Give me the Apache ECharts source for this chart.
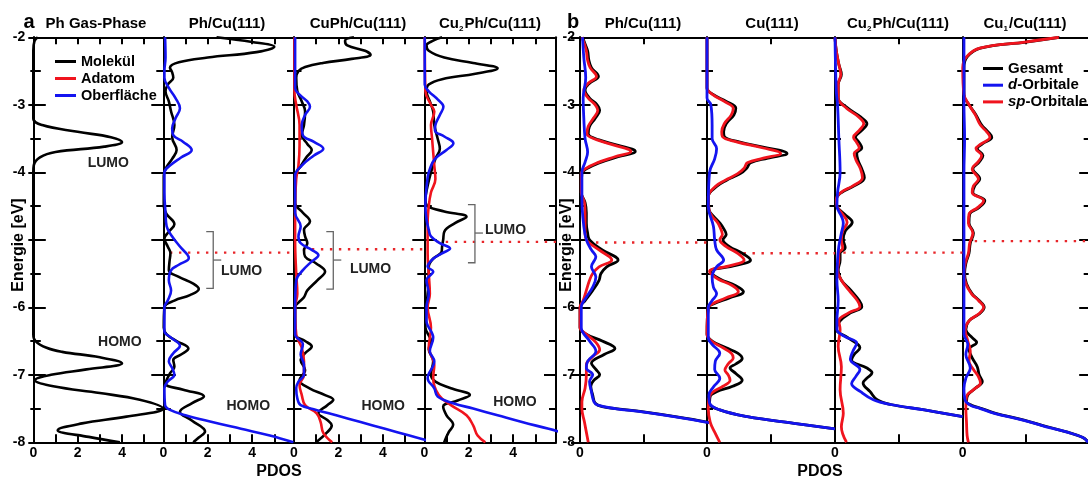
<!DOCTYPE html>
<html>
<head>
<meta charset="utf-8">
<script src="https://cdn.jsdelivr.net/npm/echarts@6/dist/echarts.min.js"></script>
<style>
  html, body { margin: 0; padding: 0; background: #fff; }
  #chart { width: 1088px; height: 480px; }
</style>
</head>
<body>
<div id="chart"></div>
<script>
// every curve: [energy (eV), PDOS]
// --- a: Ph Gas-Phase
const gasMolekuel = [[-2.0,0.2],[-2.06,0.05],[-2.2,0],[-3.2,0],[-3.3,0.4],[-3.4,2.0],[-3.48,3.5],[-3.55,4.0],[-3.62,3.2],[-3.7,1.0],[-3.78,0.3],[-3.9,0.02],[-4.0,0],[-6.4,0],[-6.5,0.1],[-6.6,0.6],[-6.66,1.3],[-6.74,3.0],[-6.83,4.0],[-6.92,2.4],[-7.0,0.8],[-7.08,0.08],[-7.17,0.9],[-7.27,3.0],[-7.37,4.8],[-7.5,5.85],[-7.62,4.2],[-7.72,2.2],[-7.82,1.1],[-7.92,2.5],[-8.0,3.9]];
// --- a: Ph/Cu(111)
const phMolekuel = [[-2.0,2.4],[-2.07,4.0],[-2.14,5.0],[-2.22,4.2],[-2.3,2.0],[-2.37,0.7],[-2.45,0.3],[-2.52,0.4],[-2.6,0.45],[-2.7,0.2],[-2.8,0.1],[-2.95,0.25],[-3.1,0.35],[-3.3,0.5],[-3.48,0.4],[-3.67,0.6],[-3.8,0.4],[-3.92,0.15],[-4.05,0.02],[-4.5,0.02],[-4.62,0.15],[-4.77,0.5],[-4.88,0.25],[-4.98,0.05],[-5.1,0.2],[-5.2,0.32],[-5.32,0.28],[-5.45,0.25],[-5.55,0.7],[-5.65,1.35],[-5.73,1.6],[-5.82,1.2],[-5.9,0.5],[-6.0,0.05],[-6.3,0.02],[-6.4,0.15],[-6.5,0.6],[-6.61,1.13],[-6.7,0.8],[-6.78,0.45],[-6.88,0.5],[-6.98,0.3],[-7.13,0.1],[-7.22,0.9],[-7.32,1.83],[-7.42,1.3],[-7.55,0.75],[-7.68,1.3],[-7.84,1.88],[-7.93,1.6],[-8.0,1.35]];
const phOberflaeche = [[-2.0,0.08],[-2.3,0.1],[-2.5,0.05],[-2.6,0.05],[-2.75,0.25],[-2.9,0.55],[-3.05,0.75],[-3.2,0.55],[-3.35,0.4],[-3.45,0.45],[-3.55,0.9],[-3.67,1.28],[-3.78,0.8],[-3.9,0.3],[-4.0,0.05],[-4.3,0.05],[-4.6,0.1],[-4.8,0.15],[-4.95,0.4],[-5.1,0.75],[-5.27,1.15],[-5.37,0.7],[-5.45,0.35],[-5.6,0.25],[-5.75,0.35],[-5.9,0.2],[-6.0,0.05],[-6.35,0.05],[-6.45,0.35],[-6.57,0.75],[-6.68,0.45],[-6.8,0.25],[-6.9,0.4],[-7.0,0.5],[-7.1,0.2],[-7.2,0.05],[-7.45,0.08],[-7.52,0.3],[-7.6,1.0],[-7.7,2.2],[-7.8,3.5],[-7.9,4.8],[-8.0,5.86]];
// --- a: CuPh/Cu(111)
const cuphMolekuel = [[-2.0,2.7],[-2.05,2.3],[-2.12,2.4],[-2.2,3.2],[-2.26,3.45],[-2.32,2.6],[-2.38,1.3],[-2.44,0.5],[-2.5,0.2],[-2.6,0.1],[-2.8,0.15],[-2.95,0.35],[-3.1,0.5],[-3.3,0.45],[-3.45,0.35],[-3.58,0.6],[-3.67,0.8],[-3.78,0.55],[-3.91,0.3],[-4.05,0.05],[-4.45,0.05],[-4.6,0.4],[-4.73,0.72],[-4.85,0.45],[-4.95,0.5],[-5.05,0.6],[-5.15,0.45],[-5.25,0.5],[-5.35,1.0],[-5.47,1.4],[-5.6,1.05],[-5.75,0.6],[-5.85,0.45],[-5.93,0.2],[-6.0,0.05],[-6.4,0.05],[-6.5,0.5],[-6.58,0.8],[-6.68,0.5],[-6.78,0.3],[-6.93,0.5],[-7.08,0.25],[-7.2,0.7],[-7.3,1.4],[-7.37,1.77],[-7.45,1.5],[-7.57,1.1],[-7.67,1.5],[-7.75,1.7],[-7.85,1.5],[-8.0,1.0]];
const cuphAdatom = [[-2.0,0.02],[-2.8,0.02],[-3.0,0.1],[-3.3,0.25],[-3.6,0.25],[-3.9,0.2],[-4.1,0.1],[-4.5,0.05],[-5.0,0.05],[-5.5,0.1],[-5.8,0.15],[-6.0,0.05],[-6.4,0.1],[-6.6,0.35],[-6.8,0.45],[-7.0,0.45],[-7.15,0.25],[-7.3,0.35],[-7.45,0.5],[-7.57,1.02],[-7.7,1.2],[-7.86,1.32],[-8.0,1.72]];
const cuphOberflaeche = [[-2.0,0.05],[-2.75,0.05],[-2.85,0.25],[-2.95,0.6],[-3.03,0.72],[-3.15,0.5],[-3.3,0.35],[-3.45,0.4],[-3.55,0.9],[-3.65,1.32],[-3.75,0.9],[-3.9,0.35],[-4.05,0.05],[-4.6,0.05],[-4.8,0.3],[-4.95,0.2],[-5.05,0.3],[-5.15,0.8],[-5.23,1.1],[-5.32,0.8],[-5.45,0.4],[-5.6,0.1],[-6.0,0.05],[-6.4,0.05],[-6.55,0.4],[-6.7,0.3],[-6.85,0.45],[-7.0,0.45],[-7.1,0.2],[-7.2,0.1],[-7.35,0.15],[-7.45,0.3],[-7.52,1.0],[-7.6,1.9],[-7.7,3.0],[-7.8,4.1],[-7.9,5.2],[-8.0,6.3]];
// --- a: Cu2Ph/Cu(111)
const cu2phMolekuel = [[-2.0,0.8],[-2.05,0.4],[-2.12,0.1],[-2.2,0.2],[-2.3,0.9],[-2.38,2.2],[-2.46,3.3],[-2.54,2.3],[-2.62,0.8],[-2.7,0.2],[-2.8,0.1],[-2.95,0.25],[-3.1,0.4],[-3.3,0.45],[-3.5,0.6],[-3.65,0.7],[-3.8,0.5],[-4.0,0.3],[-4.2,0.15],[-4.4,0.05],[-4.5,0.15],[-4.58,0.9],[-4.66,1.9],[-4.75,1.4],[-4.88,0.9],[-5.0,0.85],[-5.1,0.8],[-5.18,0.78],[-5.28,0.4],[-5.4,0.2],[-5.6,0.2],[-5.8,0.15],[-6.0,0.1],[-6.3,0.05],[-6.5,0.3],[-6.62,0.2],[-6.8,0.4],[-7.0,0.3],[-7.1,0.5],[-7.2,1.2],[-7.3,2.05],[-7.38,1.5],[-7.47,0.85],[-7.6,1.0],[-7.74,1.3],[-7.85,1.1],[-8.0,0.9]];
const cu2phAdatom = [[-2.0,0.02],[-2.8,0.05],[-3.0,0.3],[-3.1,0.45],[-3.3,0.3],[-3.5,0.35],[-3.7,0.4],[-3.9,0.45],[-4.1,0.5],[-4.3,0.3],[-4.5,0.2],[-4.75,0.15],[-5.2,0.15],[-5.5,0.2],[-5.8,0.25],[-6.0,0.15],[-6.3,0.3],[-6.6,0.2],[-6.85,0.45],[-7.05,0.4],[-7.3,0.65],[-7.45,1.2],[-7.6,1.9],[-7.75,2.2],[-7.9,2.4],[-8.0,2.75]];
const cu2phOberflaeche = [[-2.0,0.02],[-2.7,0.02],[-2.8,0.2],[-2.92,0.6],[-3.03,0.86],[-3.15,0.7],[-3.3,0.5],[-3.38,0.48],[-3.47,0.9],[-3.57,1.31],[-3.67,1.0],[-3.8,0.48],[-3.95,0.25],[-4.08,0.15],[-4.5,0.05],[-4.7,0.1],[-4.85,0.2],[-4.95,0.3],[-5.05,0.7],[-5.13,1.16],[-5.2,0.8],[-5.28,0.4],[-5.4,0.15],[-5.47,0.4],[-5.6,0.1],[-5.8,0.2],[-6.0,0.1],[-6.2,0.1],[-6.45,0.4],[-6.65,0.25],[-6.8,0.45],[-7.05,0.15],[-7.2,0.45],[-7.32,0.6],[-7.42,1.3],[-7.5,2.2],[-7.6,3.3],[-7.7,4.4],[-7.8,5.6],[-7.88,6.5]];
// --- b: Ph/Cu(111)
const bPhGesamt = [[-2.0,0.04],[-2.1,0.08],[-2.2,0.12],[-2.34,0.14],[-2.45,0.18],[-2.58,0.29],[-2.68,0.15],[-2.78,0.08],[-2.9,0.15],[-3.0,0.27],[-3.08,0.31],[-3.2,0.24],[-3.32,0.15],[-3.43,0.13],[-3.52,0.3],[-3.6,0.6],[-3.69,0.87],[-3.77,0.6],[-3.86,0.3],[-3.95,0.1],[-4.02,0.03],[-4.3,0.02],[-4.45,0.08],[-4.6,0.1],[-4.75,0.1],[-4.9,0.12],[-5.0,0.15],[-5.15,0.35],[-5.3,0.6],[-5.4,0.42],[-5.5,0.33],[-5.6,0.3],[-5.75,0.2],[-5.9,0.08],[-6.0,0.0],[-6.3,0.0],[-6.4,0.1],[-6.5,0.35],[-6.61,0.55],[-6.7,0.38],[-6.83,0.18],[-6.92,0.25],[-7.0,0.31],[-7.08,0.22],[-7.17,0.17],[-7.3,0.2],[-7.42,0.24],[-7.47,0.35],[-7.55,1.0],[-7.62,1.5],[-7.7,2.0],[-7.76,2.3]];
const bPhD = [[-2.0,0.04],[-2.3,0.06],[-2.6,0.09],[-2.9,0.05],[-3.2,0.06],[-3.5,0.08],[-3.7,0.12],[-3.85,0.08],[-4.0,0.03],[-4.4,0.03],[-4.8,0.06],[-5.0,0.1],[-5.15,0.18],[-5.25,0.25],[-5.4,0.18],[-5.55,0.25],[-5.7,0.2],[-5.85,0.1],[-6.0,0.02],[-6.3,0.02],[-6.5,0.15],[-6.65,0.25],[-6.8,0.12],[-6.9,0.1],[-7.0,0.2],[-7.1,0.15],[-7.25,0.18],[-7.4,0.22],[-7.45,0.28],[-7.5,0.55],[-7.55,0.98],[-7.62,1.48],[-7.7,1.98],[-7.76,2.3]];
const bPhSp = [[-2.0,0.03],[-2.1,0.07],[-2.2,0.1],[-2.34,0.12],[-2.45,0.16],[-2.58,0.26],[-2.68,0.13],[-2.78,0.06],[-2.9,0.13],[-3.0,0.24],[-3.08,0.28],[-3.2,0.21],[-3.32,0.13],[-3.43,0.11],[-3.52,0.27],[-3.6,0.55],[-3.69,0.8],[-3.77,0.55],[-3.86,0.27],[-3.95,0.08],[-4.02,0.02],[-4.3,0.02],[-4.45,0.07],[-4.6,0.08],[-4.75,0.08],[-4.9,0.08],[-5.0,0.1],[-5.15,0.3],[-5.3,0.5],[-5.4,0.3],[-5.5,0.2],[-5.6,0.15],[-5.75,0.1],[-5.9,0.05],[-6.0,0.0],[-6.3,0.0],[-6.4,0.1],[-6.52,0.25],[-6.63,0.31],[-6.73,0.2],[-6.85,0.1],[-7.0,0.1],[-7.2,0.08],[-7.4,0.03],[-7.5,0.03],[-7.7,0.07],[-8.0,0.13]];
// --- b: Cu(111)
const bCuGesamt = [[-2.0,0],[-2.75,0],[-2.85,0.1],[-2.95,0.3],[-3.05,0.45],[-3.15,0.42],[-3.28,0.3],[-3.4,0.26],[-3.47,0.27],[-3.55,0.5],[-3.64,0.95],[-3.72,1.25],[-3.79,0.95],[-3.86,0.68],[-3.94,0.62],[-4.02,0.52],[-4.12,0.3],[-4.21,0.15],[-4.36,0.02],[-4.55,0.03],[-4.65,0.1],[-4.75,0.2],[-4.85,0.27],[-4.92,0.3],[-5.0,0.25],[-5.1,0.35],[-5.2,0.55],[-5.3,0.68],[-5.38,0.45],[-5.47,0.05],[-5.58,0.2],[-5.68,0.45],[-5.77,0.57],[-5.86,0.35],[-5.95,0.1],[-6.0,0.02],[-6.4,0.0],[-6.5,0.08],[-6.6,0.3],[-6.68,0.48],[-6.76,0.55],[-6.84,0.45],[-6.9,0.36],[-6.98,0.45],[-7.08,0.55],[-7.17,0.4],[-7.25,0.15],[-7.32,0.05],[-7.42,0.04],[-7.52,0.2],[-7.62,0.63],[-7.72,1.36],[-7.8,2.0]];
const bCuD = [[-2.0,0],[-2.9,0],[-3.0,0.06],[-3.3,0.08],[-3.5,0.08],[-3.65,0.15],[-3.8,0.12],[-4.0,0.04],[-4.5,0.02],[-4.8,0.1],[-5.0,0.12],[-5.15,0.15],[-5.3,0.26],[-5.4,0.15],[-5.55,0.08],[-5.7,0.1],[-5.8,0.15],[-5.9,0.08],[-6.0,0.02],[-6.45,0.02],[-6.55,0.08],[-6.68,0.2],[-6.8,0.13],[-6.92,0.12],[-7.05,0.2],[-7.18,0.1],[-7.3,0.03],[-7.42,0.04],[-7.52,0.2],[-7.62,0.63],[-7.72,1.36],[-7.8,2.0]];
const bCuSp = [[-2.0,0],[-2.75,0],[-2.85,0.09],[-2.95,0.27],[-3.05,0.41],[-3.15,0.38],[-3.28,0.27],[-3.4,0.23],[-3.47,0.24],[-3.55,0.46],[-3.64,0.88],[-3.72,1.15],[-3.79,0.88],[-3.86,0.63],[-3.94,0.58],[-4.02,0.48],[-4.12,0.28],[-4.21,0.13],[-4.36,0.02],[-4.55,0.03],[-4.65,0.08],[-4.75,0.17],[-4.85,0.22],[-4.92,0.24],[-5.0,0.2],[-5.1,0.3],[-5.2,0.48],[-5.3,0.58],[-5.38,0.38],[-5.47,0.04],[-5.58,0.17],[-5.68,0.4],[-5.77,0.49],[-5.86,0.3],[-5.95,0.08],[-6.0,0.02],[-6.4,0.0],[-6.5,0.07],[-6.6,0.25],[-6.68,0.38],[-6.75,0.41],[-6.84,0.33],[-6.93,0.28],[-7.0,0.33],[-7.08,0.36],[-7.17,0.25],[-7.25,0.1],[-7.32,0.04],[-7.5,0.02],[-7.7,0.05],[-7.85,0.12],[-8.0,0.2]];
// --- b: Cu2Ph/Cu(111)
const bCu2Gesamt = [[-2.0,0],[-2.2,0.02],[-2.4,0.06],[-2.55,0.1],[-2.7,0.05],[-2.9,0.05],[-3.05,0.2],[-3.18,0.4],[-3.28,0.5],[-3.38,0.42],[-3.48,0.32],[-3.56,0.38],[-3.64,0.42],[-3.72,0.34],[-3.82,0.36],[-3.95,0.42],[-4.08,0.46],[-4.2,0.3],[-4.3,0.1],[-4.4,0.02],[-4.5,0.03],[-4.62,0.15],[-4.74,0.27],[-4.87,0.16],[-5.0,0.13],[-5.12,0.16],[-5.2,0.08],[-5.3,0.08],[-5.45,0.05],[-5.6,0.1],[-5.75,0.25],[-5.9,0.38],[-5.99,0.42],[-6.08,0.25],[-6.2,0.08],[-6.33,0.02],[-6.45,0.2],[-6.6,0.39],[-6.7,0.3],[-6.78,0.26],[-6.9,0.5],[-6.97,0.58],[-7.05,0.5],[-7.12,0.44],[-7.25,0.55],[-7.37,0.66],[-7.44,0.87],[-7.52,1.4],[-7.62,2.0]];
const bCu2D = [[-2.0,0],[-2.8,0.02],[-3.0,0.04],[-3.5,0.06],[-4.0,0.08],[-4.3,0.04],[-4.5,0.03],[-4.65,0.1],[-4.75,0.13],[-4.9,0.1],[-5.1,0.06],[-5.3,0.04],[-5.6,0.03],[-5.9,0.05],[-6.2,0.03],[-6.33,0.03],[-6.43,0.15],[-6.53,0.34],[-6.65,0.28],[-6.77,0.24],[-6.92,0.39],[-7.02,0.33],[-7.13,0.26],[-7.25,0.4],[-7.37,0.6],[-7.44,0.87],[-7.52,1.4],[-7.62,2.0]];
const bCu2Sp = [[-2.0,0],[-2.2,0.02],[-2.4,0.06],[-2.55,0.09],[-2.7,0.05],[-2.9,0.05],[-3.05,0.18],[-3.18,0.37],[-3.28,0.45],[-3.38,0.38],[-3.48,0.29],[-3.56,0.34],[-3.64,0.38],[-3.72,0.3],[-3.82,0.33],[-3.95,0.4],[-4.08,0.43],[-4.2,0.28],[-4.3,0.09],[-4.4,0.02],[-4.5,0.03],[-4.62,0.12],[-4.74,0.19],[-4.87,0.12],[-5.0,0.1],[-5.12,0.12],[-5.2,0.06],[-5.3,0.06],[-5.45,0.04],[-5.6,0.1],[-5.75,0.22],[-5.9,0.35],[-5.99,0.39],[-6.08,0.22],[-6.2,0.06],[-6.33,0.08],[-6.58,0.05],[-6.88,0.1],[-7.22,0.08],[-7.57,0.13],[-7.77,0.1],[-8.0,0.18]];
// --- b: Cu1/Cu(111)
const bCu1Gesamt = [[-2.0,1.53],[-2.07,1.0],[-2.16,0.28],[-2.29,0.07],[-2.45,0.02],[-2.85,0.02],[-3.0,0.1],[-3.15,0.21],[-3.3,0.3],[-3.4,0.4],[-3.48,0.46],[-3.58,0.31],[-3.65,0.23],[-3.75,0.32],[-3.85,0.26],[-3.95,0.16],[-4.1,0.27],[-4.2,0.19],[-4.3,0.16],[-4.42,0.35],[-4.52,0.26],[-4.62,0.11],[-4.75,0.1],[-4.9,0.17],[-5.05,0.12],[-5.2,0.1],[-5.35,0.05],[-5.5,0.03],[-5.65,0.06],[-5.8,0.15],[-5.9,0.26],[-6.0,0.34],[-6.1,0.26],[-6.2,0.1],[-6.33,0.05],[-6.45,0.15],[-6.52,0.22],[-6.62,0.1],[-6.75,0.15],[-6.88,0.23],[-7.0,0.26],[-7.1,0.31],[-7.2,0.2],[-7.3,0.08],[-7.4,0.06],[-7.45,0.14],[-7.5,0.3],[-7.57,0.52],[-7.67,0.97],[-7.77,1.34],[-7.85,1.66],[-7.93,1.9],[-8.0,1.99]];
const bCu1D = [[-2.0,0.02],[-3.0,0.02],[-3.5,0.03],[-4.0,0.02],[-5.0,0.02],[-6.0,0.02],[-6.4,0.02],[-6.55,0.08],[-6.7,0.05],[-6.9,0.12],[-7.05,0.05],[-7.2,0.02],[-7.38,0.04],[-7.45,0.12],[-7.5,0.28],[-7.57,0.5],[-7.67,0.95],[-7.77,1.32],[-7.85,1.65],[-7.93,1.9],[-8.0,1.98]];
const bCu1Sp = [[-2.0,1.52],[-2.07,0.98],[-2.16,0.27],[-2.29,0.06],[-2.45,0.0],[-2.85,0.02],[-3.0,0.1],[-3.15,0.2],[-3.3,0.28],[-3.4,0.38],[-3.48,0.43],[-3.58,0.29],[-3.65,0.21],[-3.75,0.3],[-3.85,0.24],[-3.95,0.15],[-4.1,0.25],[-4.2,0.17],[-4.3,0.15],[-4.42,0.33],[-4.52,0.24],[-4.62,0.1],[-4.75,0.09],[-4.9,0.16],[-5.05,0.11],[-5.2,0.09],[-5.35,0.04],[-5.5,0.02],[-5.65,0.05],[-5.8,0.14],[-5.9,0.25],[-6.0,0.33],[-6.1,0.25],[-6.2,0.1],[-6.33,0.04],[-6.5,0.08],[-6.65,0.12],[-6.8,0.1],[-6.92,0.17],[-7.03,0.25],[-7.12,0.28],[-7.22,0.17],[-7.32,0.06],[-7.5,0.05],[-7.7,0.06],[-7.9,0.07],[-8.0,0.09]];

// Fermi levels per panel: [energy, PDOS where the dotted line starts]
const fermiLevels = [null, [-5.19, 0.3], [-5.14, 0.4], [-5.03, 0.56], [-5.04, 0.11], [-5.2, 0.57], [-5.19, 0.13], [-5.02, 0.19]];

const titlesA = ['Ph Gas-Phase', 'Ph/Cu(111)', 'CuPh/Cu(111)', '{n|Cu}{s|2}{n|Ph/Cu(111)}'];
const titlesB = ['Ph/Cu(111)', 'Cu(111)', '{n|Cu}{s|2}{n|Ph/Cu(111)}', '{n|Cu}{s|1}{n|/Cu(111)}'];

const BLACK = '#000', RED = '#f0141e', BLUE = '#1414f0';
const FONT = '"Liberation Sans", Arial, Helvetica, sans-serif';

const panels = [
  { left: 33.3, width: 130, xMax: 5.86, curves: [[gasMolekuel, 'Molekül', BLACK]] },
  { left: 163.3, width: 130.7, xMax: 5.89, curves: [[phMolekuel, 'Molekül', BLACK], [phOberflaeche, 'Oberfläche', BLUE]] },
  { left: 294, width: 130.3, xMax: 5.87, curves: [[cuphMolekuel, 'Molekül', BLACK], [cuphAdatom, 'Adatom', RED], [cuphOberflaeche, 'Oberfläche', BLUE]] },
  { left: 424.3, width: 131.7, xMax: 5.93, curves: [[cu2phMolekuel, 'Molekül', BLACK], [cu2phAdatom, 'Adatom', RED], [cu2phOberflaeche, 'Oberfläche', BLUE]] },
  { left: 580, width: 127, xMax: 2, curves: [[bPhGesamt, 'Gesamt', BLACK], [bPhSp, 'sp-Orbitale', RED], [bPhD, 'd-Orbitale', BLUE]] },
  { left: 707, width: 128, xMax: 2, curves: [[bCuGesamt, 'Gesamt', BLACK], [bCuSp, 'sp-Orbitale', RED], [bCuD, 'd-Orbitale', BLUE]] },
  { left: 835, width: 127.7, xMax: 2, curves: [[bCu2Gesamt, 'Gesamt', BLACK], [bCu2Sp, 'sp-Orbitale', RED], [bCu2D, 'd-Orbitale', BLUE]] },
  { left: 962.7, width: 126.5, xMax: 2, curves: [[bCu1Gesamt, 'Gesamt', BLACK], [bCu1Sp, 'sp-Orbitale', RED], [bCu1D, 'd-Orbitale', BLUE]] }
];

const TOP = 37.3, HEIGHT = 405;
const axisLineStyle = { color: '#000', width: 2 };

const grid = [], xAxis = [], yAxis = [], series = [];

panels.forEach((p, i) => {
  const isA = i < 4;
  grid.push({ left: p.left, top: TOP, width: p.width, height: HEIGHT, containLabel: false, outerBoundsMode: 'none' });
  const xBase = {
    gridIndex: i, type: 'value', min: 0, max: p.xMax, interval: 1,
    axisLine: { onZero: false, lineStyle: axisLineStyle },
    splitLine: { show: false }
  };
  xAxis.push(Object.assign({}, xBase, {
    position: 'bottom',
    axisTick: { inside: true, length: 8, lineStyle: { width: 2, color: '#000' } },
    axisLabel: {
      margin: 4, color: '#000', fontSize: 14, fontWeight: 'bold', fontFamily: FONT,
      formatter: v => (isA ? [0, 2, 4] : [0]).includes(v) ? String(v) : ''
    }
  }));
  xAxis.push(Object.assign({}, xBase, {
    position: 'top',
    axisTick: { inside: true, length: 7, lineStyle: { width: 2, color: '#000' } },
    axisLabel: { show: false }
  }));
  const yBase = {
    gridIndex: i, type: 'value', min: -8, max: -2, interval: 1,
    axisLine: { onZero: false, lineStyle: axisLineStyle },
    splitLine: { show: false }, minorSplitLine: { show: false },
    axisLabel: { show: false }
  };
  yAxis.push(Object.assign({}, yBase, {
    position: 'left',
    axisTick: { inside: true, length: isA ? 12.5 : 10.5, lineStyle: { width: 2, color: '#000' } },
    minorTick: { show: true, splitNumber: 2, length: isA ? 7.5 : 6, lineStyle: { width: 2, color: '#000' } }
  }));
  yAxis.push(Object.assign({}, yBase, {
    position: 'right',
    axisTick: { inside: true, length: isA ? 12 : 10, lineStyle: { width: 2, color: '#000' } },
    minorTick: { show: true, splitNumber: 2, length: isA ? 7 : 5.5, lineStyle: { width: 2, color: '#000' } }
  }));

  p.curves.forEach(([pts, name, color]) => {
    series.push({
      type: 'line', name, xAxisIndex: 2 * i, yAxisIndex: 2 * i,
      data: pts.map(([e, v]) => [v, e]),
      symbol: 'none', showSymbol: false, smooth: 0.4, clip: true,
      lineStyle: { color, width: isA ? 2.6 : 2.8 },
      itemStyle: { color }, silent: true, z: 3
    });
  });

  const f = fermiLevels[i];
  if (f) {
    series.push({
      type: 'line', name: 'EF', xAxisIndex: 2 * i, yAxisIndex: 2 * i,
      data: [[f[1], f[0]], [p.xMax, f[0]]],
      symbol: 'none', showSymbol: false, clip: false,
      lineStyle: { color: '#e8262a', width: 2.4, type: [2.4, 6.6] },
      silent: true, z: 2
    });
  }
});

// outer energy axes carrying the labels
[[0, 5, 8], [4, 9, 5]].forEach(([gi, len, margin]) => {
  yAxis.push({
    gridIndex: gi, type: 'value', min: -8, max: -2, interval: 1, position: 'left',
    axisLine: { onZero: false, lineStyle: axisLineStyle },
    splitLine: { show: false }, minorSplitLine: { show: false },
    axisTick: { inside: false, length: len, lineStyle: { width: 2, color: '#000' } },
    minorTick: { show: true, splitNumber: 2, length: Math.round(len * 0.6), lineStyle: { width: 2, color: '#000' } },
    axisLabel: {
      margin, color: '#000', fontSize: 14, fontWeight: 'bold', fontFamily: FONT,
      formatter: v => v === -5 ? '' : String(v)
    }
  });
});

const legendText = { fontSize: 15, fontWeight: 'bold', fontFamily: FONT, color: '#000', lineHeight: 17 };

const chart = echarts.init(document.getElementById('chart'), null, { renderer: 'canvas' });
chart.setOption({
  animation: false,
  backgroundColor: '#fff',
  textStyle: { fontFamily: FONT },
  grid, xAxis, yAxis, series,
  legend: [
    {
      data: ['Molekül', 'Adatom', 'Oberfläche'], left: 55, top: 53, orient: 'vertical', padding: 0,
      icon: 'rect', itemWidth: 21, itemHeight: 3, itemGap: 0, selectedMode: false,
      textStyle: Object.assign({}, legendText, { fontSize: 14.5 })
    },
    {
      data: ['Gesamt', 'd-Orbitale', 'sp-Orbitale'], left: 983, top: 60, orient: 'vertical', padding: 0,
      icon: 'rect', itemWidth: 20, itemHeight: 3, itemGap: -0.3, selectedMode: false,
      textStyle: Object.assign({}, legendText, {
        rich: { i: { fontStyle: 'italic', fontWeight: 'bold', fontSize: 15, fontFamily: FONT } }
      }),
      formatter: n => n === 'd-Orbitale' ? '{i|d}-Orbitale' : n === 'sp-Orbitale' ? '{i|sp}-Orbitale' : n
    }
  ]
});

// annotations in data units
const orbitalLabels = [
  { panel: 0, text: 'LUMO', x: 3.38, e: -3.87 },
  { panel: 0, text: 'HOMO', x: 3.9, e: -6.51 },
  { panel: 1, text: 'HOMO', x: 3.83, e: -7.46 },
  { panel: 2, text: 'HOMO', x: 4.02, e: -7.46 },
  { panel: 3, text: 'HOMO', x: 4.08, e: -7.41 }
];
const lumoBrackets = [
  { panel: 1, x: 2.25, top: -4.88, bottom: -5.72, mid: -5.3, labelX: 2.6, labelE: -5.47 },
  { panel: 2, x: 1.77, top: -4.88, bottom: -5.73, mid: -5.3, labelX: 2.52, labelE: -5.44 },
  { panel: 3, x: 2.28, top: -4.48, bottom: -5.34, mid: -4.9, labelX: 2.73, labelE: -4.86 }
];

const toPx = (gi, x, e) => chart.convertToPixel({ xAxisIndex: 2 * gi, yAxisIndex: 2 * gi }, [x, e]);

const text = (t, x, y, size, opts) => ({
  type: 'text', silent: true, z: 10,
  style: Object.assign({
    text: t, x, y, fill: '#000', font: `bold ${size}px ${FONT}`,
    textAlign: 'center', textVerticalAlign: 'middle', align: 'center', verticalAlign: 'middle'
  }, opts || {})
});

const richTitle = {
  n: { fontSize: 15, fontWeight: 'bold', fontFamily: FONT, color: '#000', lineHeight: 18 },
  s: { fontSize: 8, fontWeight: 'bold', fontFamily: FONT, color: '#000', lineHeight: 10, verticalAlign: 'bottom', padding: [0, 1, 0, 0] }
};

const graphics = [];
graphics.push(text('a', 29, 22, 20));
graphics.push(text('b', 573, 22, 20));
const titleCentersA = [96, 227, 358, 490];
const titleCentersB = [643, 772, 898, 1025];
titlesA.concat(titlesB).forEach((t, k) => {
  const cx = k < 4 ? titleCentersA[k] : titleCentersB[k - 4];
  graphics.push({
    type: 'text', silent: true, z: 10,
    style: {
      text: t, x: cx, y: 24, rich: richTitle, font: `bold 15px ${FONT}`, fill: '#000',
      textAlign: 'center', textVerticalAlign: 'middle', align: 'center', verticalAlign: 'middle'
    }
  });
});
graphics.push(text('PDOS', 279, 472, 16));
graphics.push(text('PDOS', 820, 471.5, 16));
graphics.push(Object.assign(text('Energie [eV]', 0, 0, 16), { x: 18.5, y: 245, rotation: Math.PI / 2 }));
graphics.push(Object.assign(text('Energie [eV]', 0, 0, 16), { x: 567, y: 245, rotation: Math.PI / 2 }));

orbitalLabels.forEach(l => {
  const [x, y] = toPx(l.panel, l.x, l.e);
  graphics.push(text(l.text, x, y, 14, { fill: '#222' }));
});
lumoBrackets.forEach(b => {
  const [x, yT] = toPx(b.panel, b.x, b.top);
  const yB = toPx(b.panel, b.x, b.bottom)[1];
  const yM = toPx(b.panel, b.x, b.mid)[1];
  graphics.push({
    type: 'polyline', silent: true, z: 9,
    shape: { points: [[x - 7, yT], [x, yT], [x, yB], [x - 7, yB]] },
    style: { stroke: '#666', lineWidth: 1.3, fill: null }
  });
  graphics.push({
    type: 'line', silent: true, z: 9,
    shape: { x1: x, y1: yM, x2: x + 8, y2: yM },
    style: { stroke: '#666', lineWidth: 1.3 }
  });
  const [lx, ly] = toPx(b.panel, b.labelX, b.labelE);
  graphics.push(text('LUMO', lx, ly, 14, { fill: '#222', textAlign: 'left', align: 'left' }));
});

chart.setOption({ graphic: graphics });
</script>
</body>
</html>
